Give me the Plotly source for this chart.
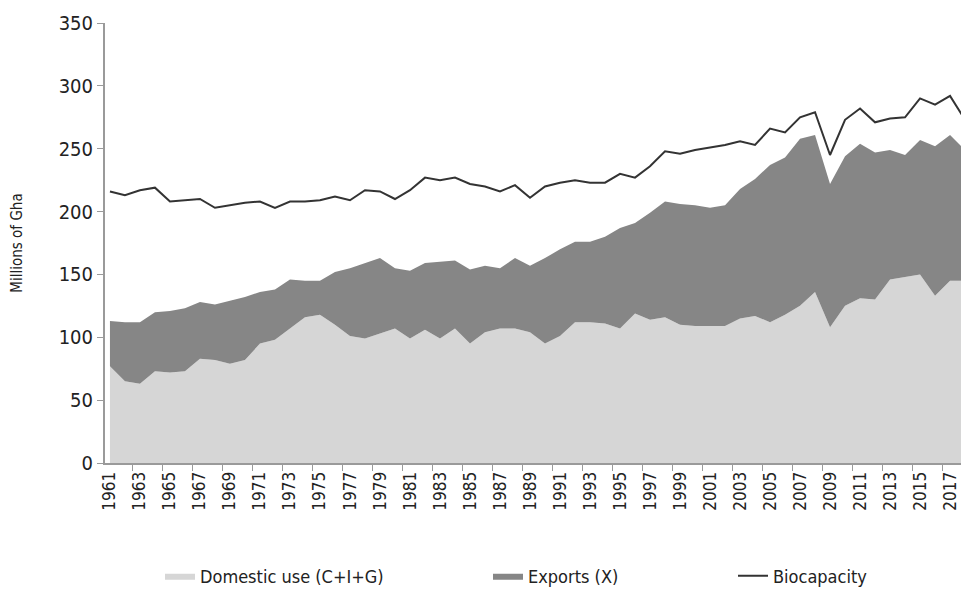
import plotly.graph_objects as go

YEARS = list(range(1961, 2019))

DOMESTIC = [
    77, 65, 63, 73, 72, 73, 83, 82, 79, 82,
    95, 98, 107, 116, 118, 110, 101, 99, 103, 107,
    99, 106, 99, 107, 95, 104, 107, 107, 104, 95,
    101, 112, 112, 111, 107, 119, 114, 116, 110, 109,
    109, 109, 115, 117, 112, 118, 125, 136, 108, 125,
    131, 130, 146, 148, 150, 133, 145, 145,
]
TOTAL = [
    113, 112, 112, 120, 121, 123, 128, 126, 129, 132,
    136, 138, 146, 145, 145, 152, 155, 159, 163, 155,
    153, 159, 160, 161, 154, 157, 155, 163, 157, 163,
    170, 176, 176, 180, 187, 191, 199, 208, 206, 205,
    203, 205, 218, 226, 237, 243, 258, 261, 222, 244,
    254, 247, 249, 245, 257, 252, 261, 249,
]
EXPORTS = [t - d for t, d in zip(TOTAL, DOMESTIC)]
BIOCAPACITY = [
    216, 213, 217, 219, 208, 209, 210, 203, 205, 207,
    208, 203, 208, 208, 209, 212, 209, 217, 216, 210,
    217, 227, 225, 227, 222, 220, 216, 221, 211, 220,
    223, 225, 223, 223, 230, 227, 236, 248, 246, 249,
    251, 253, 256, 253, 266, 263, 275, 279, 245, 273,
    282, 271, 274, 275, 290, 285, 292, 273,
]

FONT = "DejaVu Sans Condensed, Liberation Sans Narrow, sans-serif"
AXIS_GRAY = "#9a9a9a"

fig = go.Figure()
fig.add_trace(go.Scatter(
    x=YEARS, y=DOMESTIC, name="Domestic use (C+I+G)",
    stackgroup="one", mode="lines", line=dict(width=0, color="#d6d6d6"),
    fillcolor="#d6d6d6", legend="legend",
))
fig.add_trace(go.Scatter(
    x=YEARS, y=EXPORTS, name="Exports (X)",
    stackgroup="one", mode="lines", line=dict(width=0, color="#868686"),
    fillcolor="#868686", legend="legend2",
))
fig.add_trace(go.Scatter(
    x=YEARS, y=BIOCAPACITY, name="Biocapacity",
    mode="lines", line=dict(width=2, color="#333333"), legend="legend3",
))

legend_common = dict(
    orientation="h", xanchor="left", yanchor="middle", y=-0.257,
    bgcolor="rgba(0,0,0,0)", borderwidth=0,
    font=dict(family=FONT, size=18, color="#222"),
)
fig.update_layout(
    width=969, height=590,
    margin=dict(l=97, r=4, t=15, b=128),
    paper_bgcolor="white", plot_bgcolor="white",
    font=dict(family=FONT, color="#222"),
    showlegend=True,
    legend=dict(x=(152 - 97) / 868, **legend_common),
    legend2=dict(x=(480 - 97) / 868, **legend_common),
    legend3=dict(x=(725 - 97) / 868, **legend_common),
)
fig.update_xaxes(
    range=[1960.67, 2018.53], automargin=False,
    tickvals=YEARS[::2], ticktext=[str(y) for y in YEARS[::2]],
    tickangle=-90, ticks="", tickfont=dict(size=17),
    showline=True, linecolor=AXIS_GRAY, linewidth=2, showgrid=False, zeroline=False,
    minor=dict(ticks="outside", tick0=1960.5, dtick=2, ticklen=6, tickcolor=AXIS_GRAY, showgrid=False),
)
fig.update_yaxes(
    range=[0, 350], dtick=50, automargin=False,
    ticks="outside", ticklen=6, tickcolor=AXIS_GRAY, tickfont=dict(size=20),
    showline=True, linecolor=AXIS_GRAY, linewidth=2, showgrid=False, zeroline=False,
    title=dict(text="Millions of Gha", font=dict(size=15), standoff=36),
)

fig.write_html("out.html")
